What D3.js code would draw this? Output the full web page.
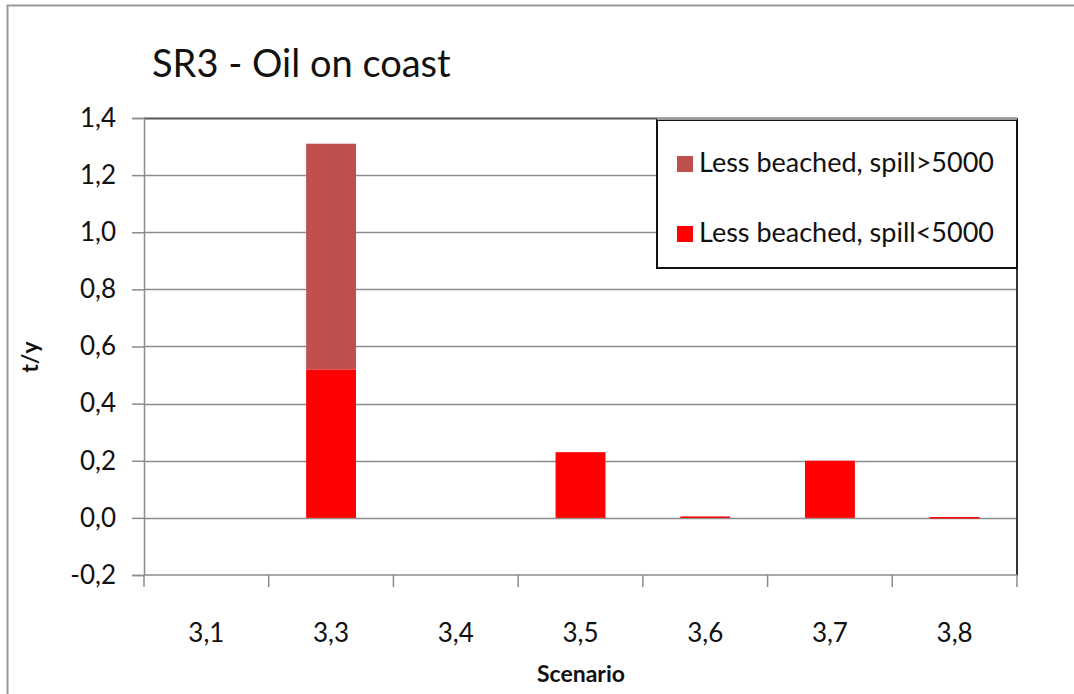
<!DOCTYPE html>
<html>
<head>
<meta charset="utf-8">
<script src="https://cdn.jsdelivr.net/npm/d3@7/dist/d3.min.js"></script>
<style>
  html, body { margin: 0; padding: 0; background: #fff; }
  svg { display: block; font-family: Lato, "Open Sans", sans-serif; }
</style>
</head>
<body>
<svg id="chart" width="1074" height="694"></svg>
<script>
// Scenario categories along the x axis
const categories = ["3,1", "3,3", "3,4", "3,5", "3,6", "3,7", "3,8"];
// Stacked series (t/y), bottom series first
const seriesNames = ["Less beached, spill<5000", "Less beached, spill>5000"];
const lessSpillUnder5000 = [0, 0.52, 0, 0.23, 0.005, 0.20, 0.003];
const lessSpillOver5000  = [0, 0.79, 0, 0, 0, 0, 0];
const seriesColors = ["#FF0000", "#C0504D"];
const yTicks = [-0.2, 0, 0.2, 0.4, 0.6, 0.8, 1.0, 1.2, 1.4];

const svg = d3.select("#chart");
const W = 1074, H = 694;
const plot = { left: 144, right: 1017, top: 118, bottom: 575 };

// Chart frame
svg.append("rect")
  .attr("x", 7.5).attr("y", 5.5)
  .attr("width", W + 10).attr("height", H + 10)
  .attr("fill", "#fff").attr("stroke", "#9a9a9a").attr("stroke-width", 2);

const x = d3.scaleBand().domain(categories)
  .range([plot.left, plot.right]).paddingInner(0.6).paddingOuter(0.3);
const xOuter = d3.scaleBand().domain(categories)
  .range([plot.left, plot.right]).padding(0);
const y = d3.scaleLinear().domain([-0.2, 1.4]).range([plot.bottom, plot.top]);

const fmt = v => d3.format(".1f")(v).replace(".", ",").replace("−", "-");

// Gridlines
svg.append("g").selectAll("line").data(yTicks.filter(v => v > -0.2)).join("line")
  .attr("x1", plot.left).attr("x2", plot.right)
  .attr("y1", d => Math.round(y(d)) + 0.5).attr("y2", d => Math.round(y(d)) + 0.5)
  .attr("stroke", d => d === 1.4 ? "#555" : "#8c8c8c")
  .attr("stroke-width", d => d === 1.4 ? 2 : 1.5);

// Right edge of plot area
svg.append("line")
  .attr("x1", plot.right).attr("x2", plot.right)
  .attr("y1", plot.top).attr("y2", plot.bottom)
  .attr("stroke", "#333").attr("stroke-width", 2);

// Stacked bars
const rows = categories.map((c, i) => ({ cat: c, s0: lessSpillUnder5000[i], s1: lessSpillOver5000[i] }));
const stack = d3.stack().keys(["s0", "s1"])(rows);
svg.append("g").selectAll("g").data(stack).join("g")
  .attr("fill", (d, i) => seriesColors[i])
  .selectAll("rect").data(d => d.filter(p => p[1] - p[0] > 0)).join("rect")
  .attr("x", d => x(d.data.cat))
  .attr("width", x.bandwidth())
  .attr("y", d => y(d[1]))
  .attr("height", d => Math.max(1.5, y(d[0]) - y(d[1])));

// Y axis
const yAxis = svg.append("g")
  .attr("transform", `translate(${plot.left},0)`)
  .call(d3.axisLeft(y).tickValues(yTicks).tickFormat(fmt).tickSize(12).tickPadding(16));
yAxis.select(".domain").attr("stroke", "#8c8c8c").attr("stroke-width", 1.5);
yAxis.selectAll(".tick line").attr("stroke", "#8c8c8c").attr("stroke-width", 1.5);
yAxis.selectAll(".tick text").attr("font-size", 26).attr("fill", "#111")
  .attr("font-family", "Lato, sans-serif");

// X axis with tick marks between categories
const xg = svg.append("g");
xg.append("line")
  .attr("x1", plot.left).attr("x2", plot.right)
  .attr("y1", plot.bottom).attr("y2", plot.bottom)
  .attr("stroke", "#8c8c8c").attr("stroke-width", 1.5);
const bounds = categories.map(c => xOuter(c)).concat([plot.right]);
xg.selectAll("line.tk").data(bounds).join("line").attr("class", "tk")
  .attr("x1", d => d).attr("x2", d => d)
  .attr("y1", plot.bottom).attr("y2", plot.bottom + 12)
  .attr("stroke", "#8c8c8c").attr("stroke-width", 1.5);
xg.selectAll("text").data(categories).join("text")
  .attr("x", d => xOuter(d) + xOuter.bandwidth() / 2)
  .attr("y", 642)
  .attr("text-anchor", "middle")
  .attr("font-size", 26).attr("fill", "#111")
  .text(d => d);

// Axis titles
svg.append("text")
  .attr("x", 581).attr("y", 682)
  .attr("text-anchor", "middle")
  .attr("font-size", 23).attr("font-weight", "bold").attr("fill", "#111")
  .text("Scenario");
svg.append("text")
  .attr("transform", "translate(38,357) rotate(-90)")
  .attr("text-anchor", "middle")
  .attr("font-size", 23).attr("font-weight", "bold").attr("fill", "#111")
  .text("t/y");

// Chart title
svg.append("text")
  .attr("x", 152).attr("y", 77)
  .attr("font-size", 38).attr("fill", "#111")
  .text("SR3 - Oil on coast");

// Legend
const lg = svg.append("g");
lg.append("rect")
  .attr("x", 657).attr("y", 120).attr("width", 360).attr("height", 148)
  .attr("fill", "#fff").attr("stroke", "#111").attr("stroke-width", 2);
lg.append("line")
  .attr("x1", 657).attr("x2", 1017).attr("y1", 119).attr("y2", 119)
  .attr("stroke", "#999").attr("stroke-width", 2);
const legendItems = [
  { name: seriesNames[1], color: seriesColors[1], cy: 163 },
  { name: seriesNames[0], color: seriesColors[0], cy: 233 }
];
const li = lg.selectAll("g.item").data(legendItems).join("g").attr("class", "item");
li.append("rect")
  .attr("x", 677).attr("y", d => d.cy - 7).attr("width", 16).attr("height", 16)
  .attr("fill", d => d.color);
li.append("text")
  .attr("x", 699).attr("y", d => d.cy + 9)
  .attr("font-size", 27).attr("fill", "#111")
  .text(d => d.name);
</script>
</body>
</html>
